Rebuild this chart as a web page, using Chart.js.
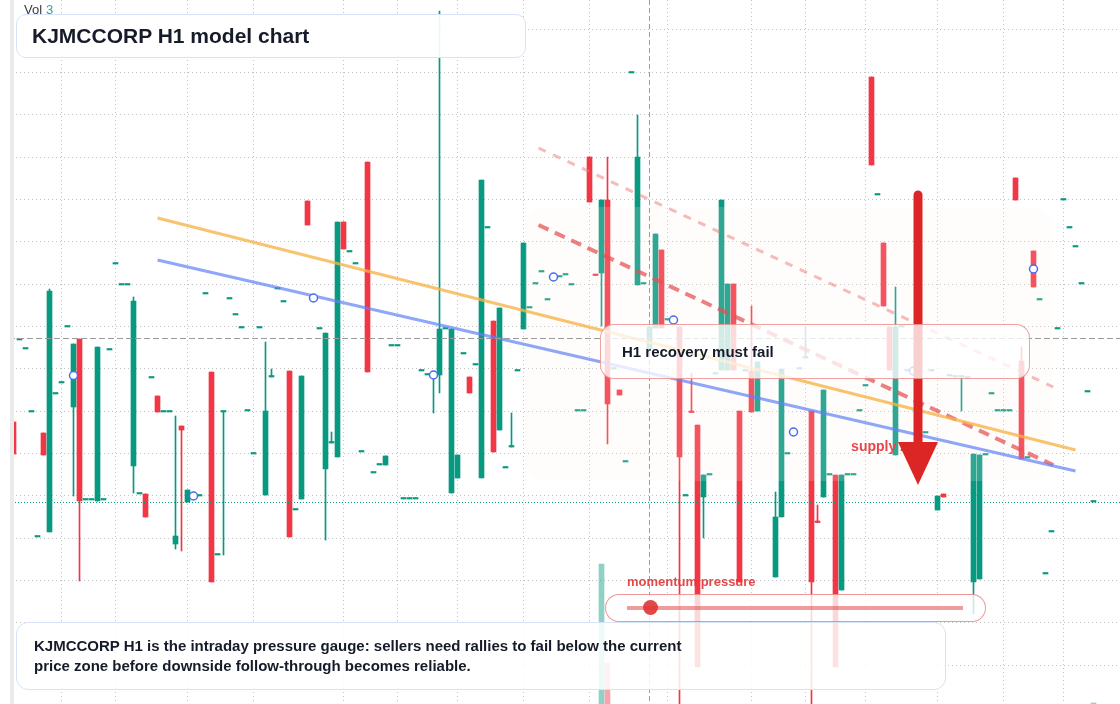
<!DOCTYPE html>
<html>
<head>
<meta charset="utf-8">
<title>KJMCCORP H1 model chart</title>
<script src="https://cdn.jsdelivr.net/npm/chart.js@4.4.1/dist/chart.umd.min.js"></script>
<style>
  html, body { margin: 0; padding: 0; background: #fff; }
  #wrap { position: relative; width: 1120px; height: 704px; overflow: hidden;
          font-family: "Liberation Sans", Arial, sans-serif; color: #161b29; }
  #chart { position: absolute; left: 0; top: 0; }
  .leftscale { position: absolute; left: 0; top: 0; width: 10px; height: 704px;
               background: #fff; border-right: 4px solid #ebebeb; }
  .vol { position: absolute; left: 24px; top: 2px; font-size: 13px; color: #3a3a3a; }
  .vol span { color: #2aa89a; margin-left: 4px; }
  .box { position: absolute; box-sizing: border-box; display: flex; align-items: center; font-weight: bold; }
  .title { left: 16px; top: 14px; width: 510px; height: 44px; padding-left: 15px;
           border: 1.5px solid #d6e3f6; border-radius: 10px; background: rgba(255,255,255,0.92);
           font-size: 21px; }
  .callout { left: 600px; top: 324px; width: 430px; height: 55px; padding-left: 21px;
             border: 1.5px solid rgba(228,84,84,0.55); border-radius: 14px;
             background: rgba(255,255,255,0.78); font-size: 15px; }
  .mlabel { position: absolute; left: 627px; top: 574px; font-size: 13px; font-weight: bold;
            color: rgba(226,52,52,0.9); }
  .slider { position: absolute; left: 605px; top: 594px; width: 381px; height: 28px; box-sizing: border-box;
            border: 1.5px solid rgba(228,84,84,0.6); border-radius: 14px; background: rgba(255,255,255,0.8); }
  .track { position: absolute; left: 21px; top: 11px; width: 336px; height: 4px; background: rgba(226,74,74,0.55); }
  .knob { position: absolute; left: 37px; top: 5px; width: 15px; height: 15px; border-radius: 50%;
          background: rgba(224,56,56,0.92); }
  .note { left: 16px; top: 622px; width: 930px; height: 68px; padding-left: 17px;
          border: 1.5px solid #d6e3f6; border-radius: 12px; background: rgba(255,255,255,0.86);
          font-size: 15px; line-height: 20px; }
</style>
</head>
<body>
<div id="wrap">
  <canvas id="chart" width="1120" height="704"></canvas>
  <div class="leftscale"></div>
  <div class="vol">Vol<span id="volNow"></span></div>
  <div class="box title">KJMCCORP H1 model chart</div>
  <div class="box callout">H1 recovery must fail</div>
  <div class="mlabel">momentum pressure</div>
  <div class="slider"><div class="track"></div><div class="knob"></div></div>
  <div class="box note"><div>KJMCCORP H1 is the intraday pressure gauge: sellers need rallies to fail below the current<br>price zone before downside follow-through becomes reliable.</div></div>
</div>
<script>
const _ = null;

// H1 bars, one slot per hour (null = no bar)
const opens = [
  57.8, 66.0, 65.1, 58.8, 46.3, 56.7, 46.8, 60.6, 61.7, 67.3,
  59.3, 66.1, 50.0, 50.0, 49.9, 50.0, 65.0, 73.6, 71.5, 71.5,
  53.4, 50.6, 50.6, 62.2, 60.4, 58.8, 58.8, 45.6, 57.4, 49.8,
  50.4, 50.4, 70.6, 62.8, 44.5, 58.8, 70.1, 68.5, 67.2, 58.9,
  54.6, 67.2, 50.5, 62.3, 71.1, 69.8, 62.9, 49.0, 50.1, 79.9,
  70.2, 67.1, 53.1, 55.7, 54.3, 77.8, 74.8, 73.6, 54.8, 83.8,
  52.7, 53.5, 53.5, 65.4, 65.4, 50.1, 50.1, 50.1, 62.9, 62.5,
  62.5, 62.5, 67.1, 50.7, 52.2, 64.6, 62.3, 63.5, 52.2, 77.2,
  67.9, 57.0, 53.2, 55.3, 62.9, 67.1, 69.2, 71.6, 72.8, 70.0,
  72.3, 72.3, 72.5, 71.5, 58.9, 58.9, 84.3, 72.55, 72.7, 80.0,
  63.1, 61.0, 53.8, 92.7, 71.5, 71.6, 65.1, 67.2, 75.0, 68.0,
  68.0, 67.3, 50.4, 58.85, 57.5, 50.3, 52.5, 62.6, 63.0, 63.0,
  71.6, 58.9, 62.9, 62.9, 58.9, _, _, 42.3, 48.3, 54.6,
  56.8, 63.1, 64.2, 58.9, 47.85, 50.3, 52.5, 52.5, 41.0, 52.5,
  52.5, 58.9, 61.4, 92.3, 80.5, 75.7, 67.3, 54.5, 67.3, 62.9,
  62.9, _, 56.7, 62.9, 49.0, 50.6, 62.4, 62.3, 62.3, 62.2,
  41.8, 42.1, 54.5, 60.6, 58.9, 58.9, 58.9, 82.2, 63.9, 54.2,
  74.9, 70.0, 42.6, 46.8, 67.1, 80.0, 77.2, 75.3, 71.6, 60.8,
  49.8
];
const closes = [
  54.6, 66.0, 65.1, 58.8, 46.3, 54.5, 70.9, 60.6, 61.7, 67.3,
  65.6, 49.9, 50.0, 50.0, 65.3, 50.0, 65.0, 73.6, 71.5, 71.5,
  69.9, 50.6, 48.3, 62.2, 58.8, 58.8, 58.8, 46.4, 57.0, 51.0,
  50.4, 50.4, 70.6, 41.8, 44.5, 58.8, 70.1, 68.5, 67.2, 58.9,
  54.6, 67.2, 58.9, 62.3, 71.1, 69.8, 46.3, 49.0, 62.4, 77.5,
  70.2, 67.1, 66.7, 55.7, 77.8, 75.1, 74.8, 73.6, 54.8, 62.8,
  52.7, 53.5, 54.4, 65.4, 65.4, 50.1, 50.1, 50.1, 62.9, 62.5,
  62.5, 67.1, 67.1, 67.1, 54.5, 64.6, 60.7, 63.5, 82.0, 77.2,
  54.8, 69.2, 53.2, 55.3, 62.9, 75.7, 69.2, 71.6, 72.8, 70.0,
  72.3, 72.3, 72.5, 71.5, 58.9, 58.9, 79.8, 72.45, 80.0, 59.6,
  63.1, 60.5, 53.8, 92.7, 84.3, 71.6, 67.3, 76.6, 67.2, 68.0,
  68.0, 54.3, 50.4, 58.75, 33.3, 52.5, 52.5, 62.6, 80.0, 71.6,
  63.0, 41.8, 62.9, 58.8, 63.8, _, _, 48.3, 63.1, 54.6,
  56.8, 63.1, 64.2, 41.8, 47.75, 61.0, 52.5, 33.3, 52.5, 52.5,
  52.5, 58.9, 61.4, 83.5, 80.5, 69.4, 63.0, 67.3, 67.3, 62.9,
  62.9, _, 56.7, 62.9, 50.4, 50.3, 62.4, 62.3, 62.3, 62.2,
  54.6, 54.5, 54.5, 60.6, 58.9, 58.9, 58.9, 80.0, 54.1, 54.2,
  71.3, 70.0, 42.6, 46.8, 67.1, 80.0, 77.2, 75.3, 71.6, 60.8,
  49.8
];
// wick extremes, null = wick ends at the body
const highs = [
  _, _, _, _, _, _, 71.1, _, _, _,
  _, _, _, _, _, _, _, _, _, _,
  70.3, _, _, _, _, _, _, 58.4, _, _,
  _, _, _, _, _, _, _, _, _, _,
  _, _, 65.8, 63.1, _, _, _, _, _, _,
  _, _, _, 56.8, _, _, _, _, _, _,
  _, _, _, _, _, _, _, _, _, _,
  _, 98.9, _, _, _, _, _, _, _, _,
  _, _, _, 58.7, _, _, _, _, _, _,
  _, _, _, _, _, _, _, _, _, 84.3,
  _, _, _, _, 88.5, _, _, _, _, _,
  _, _, _, 62.7, _, _, _, _, _, _,
  _, _, _, 69.4, _, _, _, 50.8, _, _,
  _, _, 67.3, _, 49.5, _, _, _, _, _,
  _, _, _, _, _, _, _, 71.3, _, _,
  _, _, _, _, _, _, _, _, _, _,
  _, _, _, _, _, _, _, _, 65.3, _,
  _, _, _, _, _, _, _, _, _, _,
  _
];
const lows = [
  _, _, _, _, _, _, _, _, _, _,
  50.4, 41.9, _, _, _, _, _, _, _, _,
  50.7, _, _, _, _, _, _, 45.1, 44.9, _,
  _, _, _, _, _, 44.5, _, _, _, _,
  _, _, _, _, _, _, _, _, _, _,
  _, _, 46.0, _, _, _, _, _, _, _,
  _, _, _, _, _, _, _, _, _, _,
  58.7, 60.7, _, _, _, _, _, _, _, _,
  _, _, _, _, _, _, _, _, _, _,
  _, _, _, _, _, _, _, _, 67.4, 55.6,
  _, _, _, _, _, _, _, _, _, _,
  _, 29.0, _, _, _, 46.2, _, _, _, _,
  _, _, _, _, _, _, _, _, _, _,
  _, _, _, 29.0, _, _, _, _, _, _,
  _, _, _, _, _, _, _, _, _, _,
  _, _, _, _, _, _, _, _, 58.9, _,
  38.6, _, _, _, _, _, _, _, _, _,
  _, _, _, _, _, _, _, _, _, _,
  _
];
// volume spikes (other hours are negligible)
const volumeBars = [98, 99, 180];
const volumeValues = [420, 123, 3];

// model overlays
const markerBars = [10, 30, 50, 70, 90, 110, 130, 150, 170];
const emaSlow = [{x: 24, y: 78.2}, {x: 177, y: 55.0}];
const emaFast = [{x: 24, y: 74.0}, {x: 177, y: 52.9}];
const channelLow = [{x: 87.5, y: 77.5}, {x: 173.3, y: 53.5}];
const channelHigh = [{x: 87.5, y: 85.2}, {x: 173.3, y: 61.3}];
const supplyZone = {from: 85.3, to: 173.2, top: 79.3, bottom: 51.9};
const arrowBar = 150.75, arrowFrom = 80.5, arrowTo = 51.5;
const crossBar = 106, crossPrice = 66.2;

// grid positions
const priceGrid = [97.0, 92.77, 88.53, 84.3, 80.06, 75.83, 71.59, 67.36, 63.12, 58.89, 54.65, 50.42, 46.18, 41.95, 37.71, 33.48];
const timeGrid = [8, 17, 29, 40, 55, 64, 74, 85, 96, 109, 123, 132, 142, 154, 165, 175];

const UP = '#089981', DOWN = '#f23645';

const bodies = [], wicks = [];
opens.forEach((o, i) => {
  const c = closes[i];
  if (o === null || c === null) return;
  const up = c >= o;
  const hi = highs[i] !== null ? highs[i] : Math.max(o, c);
  const lo = lows[i] !== null ? lows[i] : Math.min(o, c);
  bodies.push({x: i, y: [o, c], up: up});
  if (hi > lo) wicks.push({x: i, y: [lo, hi], up: up});
});
const markers = markerBars.map(i => ({x: i, y: (opens[i] + closes[i]) / 2}));
const volumes = volumeBars.map((b, k) => ({x: b, y: volumeValues[k], up: closes[b] >= opens[b]}));
const lastClose = closes[closes.length - 1];
document.getElementById('volNow').textContent = volumeValues[volumeValues.length - 1];

const candleColor = ctx => (ctx.raw && ctx.raw.up ? UP : DOWN);

const overlayPlugin = {
  id: 'overlay',
  afterDatasetDraw(chart, args) {
    if (args.index !== 5) return; // tint over the candle bodies
    const {ctx, scales: {x, y}} = chart;
    const x0 = x.getPixelForValue(supplyZone.from), x1 = x.getPixelForValue(supplyZone.to);
    const y0 = y.getPixelForValue(supplyZone.top), y1 = y.getPixelForValue(supplyZone.bottom);
    ctx.save();
    ctx.fillStyle = 'rgba(255,244,234,0.16)';
    ctx.beginPath();
    ctx.roundRect(x0, y0, x1 - x0, y1 - y0, 22);
    ctx.fill();
    ctx.restore();
  },
  afterDatasetsDraw(chart) {
    const {ctx, scales: {x, y}, chartArea} = chart;
    ctx.save();
    // crosshair
    ctx.strokeStyle = '#9a9a9a';
    ctx.lineWidth = 1;
    ctx.setLineDash([6, 3]);
    const cy = Math.round(y.getPixelForValue(crossPrice)) + 0.5;
    ctx.beginPath(); ctx.moveTo(chartArea.left, cy); ctx.lineTo(chartArea.right, cy); ctx.stroke();
    ctx.setLineDash([5, 3]);
    const cx = x.getPixelForValue(crossBar);
    ctx.beginPath(); ctx.moveTo(cx, chartArea.top); ctx.lineTo(cx, chartArea.bottom); ctx.stroke();
    // last price line
    ctx.strokeStyle = UP;
    ctx.setLineDash([1, 2]);
    const ly = Math.round(y.getPixelForValue(lastClose)) + 0.5;
    ctx.beginPath(); ctx.moveTo(chartArea.left, ly); ctx.lineTo(chartArea.right, ly); ctx.stroke();
    ctx.setLineDash([]);
    // zone label
    ctx.font = 'bold 14px "Liberation Sans", Arial, sans-serif';
    ctx.fillStyle = '#e5484d';
    ctx.textBaseline = 'middle';
    ctx.fillText('supply zone', x.getPixelForValue(139.6), y.getPixelForValue(55.3));
    // arrow
    const ax = x.getPixelForValue(arrowBar);
    const top = y.getPixelForValue(arrowFrom), tip = y.getPixelForValue(arrowTo);
    const headH = 43, headW = 20;
    ctx.strokeStyle = '#dc2626';
    ctx.fillStyle = '#dc2626';
    ctx.lineWidth = 9;
    ctx.lineCap = 'round';
    ctx.beginPath(); ctx.moveTo(ax, top); ctx.lineTo(ax, tip - headH + 2); ctx.stroke();
    ctx.beginPath();
    ctx.moveTo(ax - headW, tip - headH);
    ctx.lineTo(ax + headW, tip - headH);
    ctx.lineTo(ax, tip);
    ctx.closePath();
    ctx.fill();
    ctx.restore();
  }
};

const gridOpts = {color: '#c2c2c2', lineWidth: 1, drawTicks: false, offset: false};
new Chart(document.getElementById('chart'), {
  type: 'bar',
  data: {
    datasets: [
      {type: 'line', data: markers, showLine: false, pointRadius: 4, pointBorderWidth: 1.5,
       pointBorderColor: '#4a6cf0', pointBackgroundColor: '#ffffff', order: 0},
      {type: 'line', data: emaSlow, borderColor: 'rgba(247,180,70,0.78)', borderWidth: 3, pointRadius: 0, order: 1},
      {type: 'line', data: emaFast, borderColor: 'rgba(95,130,245,0.7)', borderWidth: 3, pointRadius: 0, order: 1},
      {type: 'line', data: channelLow, borderColor: 'rgba(228,80,80,0.72)', borderWidth: 4, borderDash: [11, 7],
       pointRadius: 0, order: 1},
      {type: 'line', data: channelHigh, borderColor: 'rgba(238,120,120,0.5)', borderWidth: 3, borderDash: [8, 8],
       pointRadius: 0, order: 1},
      {data: bodies, backgroundColor: candleColor, barThickness: 5, minBarLength: 1.5, grouped: false, order: 3},
      {data: wicks, backgroundColor: candleColor, barThickness: 1, grouped: false, order: 4},
      {data: volumes, yAxisID: 'yv', barThickness: 5, grouped: false, order: 5,
       backgroundColor: ctx => (ctx.raw && ctx.raw.up ? 'rgba(8,153,129,0.45)' : 'rgba(242,54,69,0.45)')}
    ]
  },
  options: {
    responsive: false,
    animation: false,
    layout: {padding: 0, autoPadding: false},
    plugins: {legend: {display: false}, tooltip: {enabled: false}},
    scales: {
      x: {type: 'linear', offset: false, min: -2.25, max: 184.4167, ticks: {display: false}, grid: gridOpts,
          border: {display: false, dash: [1, 3]},
          afterBuildTicks: s => { s.ticks = timeGrid.map(v => ({value: v})); }},
      y: {type: 'linear', min: 29.6, max: 100, ticks: {display: false}, grid: gridOpts,
          border: {display: false, dash: [1, 3]},
          afterBuildTicks: s => { s.ticks = priceGrid.map(v => ({value: v})); }},
      yv: {type: 'linear', display: false, min: 0, max: 2112}
    }
  },
  plugins: [overlayPlugin]
});
</script>
</body>
</html>
